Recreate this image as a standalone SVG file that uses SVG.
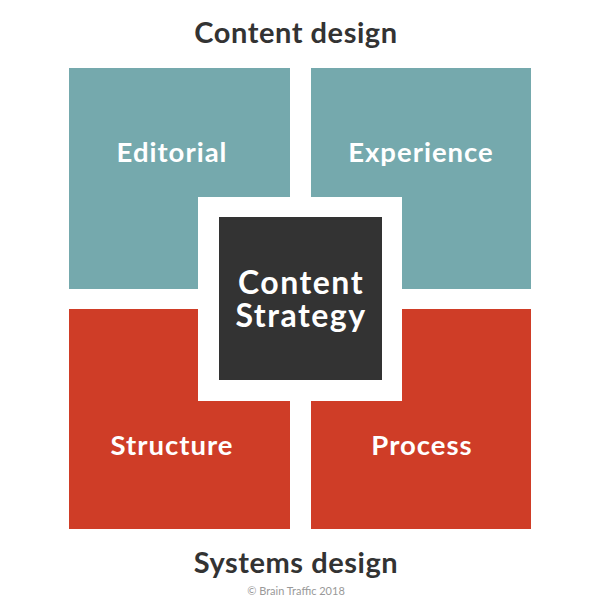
<svg xmlns="http://www.w3.org/2000/svg" width="600" height="600" viewBox="0 0 600 600">
<style>
.t{font-family:Lato,"Open Sans",sans-serif;font-weight:bold;text-anchor:middle}
.h{font-size:29px;letter-spacing:0.55px;fill:#333333}
.l{font-size:27.5px;letter-spacing:1px;fill:#ffffff}
.c{font-size:32px;letter-spacing:1.5px;fill:#ffffff}
.teal{fill:#75a9ad}
.red{fill:#cf3d27}
</style>
<rect width="600" height="600" fill="#ffffff"/>
<g id="title-top"><text class="t h" x="296" y="43">Content design</text></g>
<g id="editorial"><rect class="teal" x="69" y="68" width="221" height="221"/><text class="t l" x="172" y="162">Editorial</text></g>
<g id="experience"><rect class="teal" x="311" y="68" width="220" height="221"/><text class="t l" x="421" y="162">Experience</text></g>
<g id="structure"><rect class="red" x="69" y="309" width="221" height="220"/><text class="t l" x="172" y="455">Structure</text></g>
<g id="process"><rect class="red" x="311" y="309" width="220" height="220"/><text class="t l" x="422" y="455">Process</text></g>
<g id="content-strategy"><rect x="198" y="197" width="204" height="204" fill="#ffffff"/><rect x="219" y="217" width="163" height="163" fill="#333333"/><text class="t c"><tspan x="301" y="294">Content</tspan><tspan x="301" y="327">Strategy</tspan></text></g>
<g id="title-bottom"><text class="t h" x="296" y="573">Systems design</text></g>
<g id="credit"><text x="296" y="595" font-family="Lato,sans-serif" font-size="11" fill="#999999" text-anchor="middle">© Brain Traffic 2018</text></g>
<g id="connectors"/>
</svg>
